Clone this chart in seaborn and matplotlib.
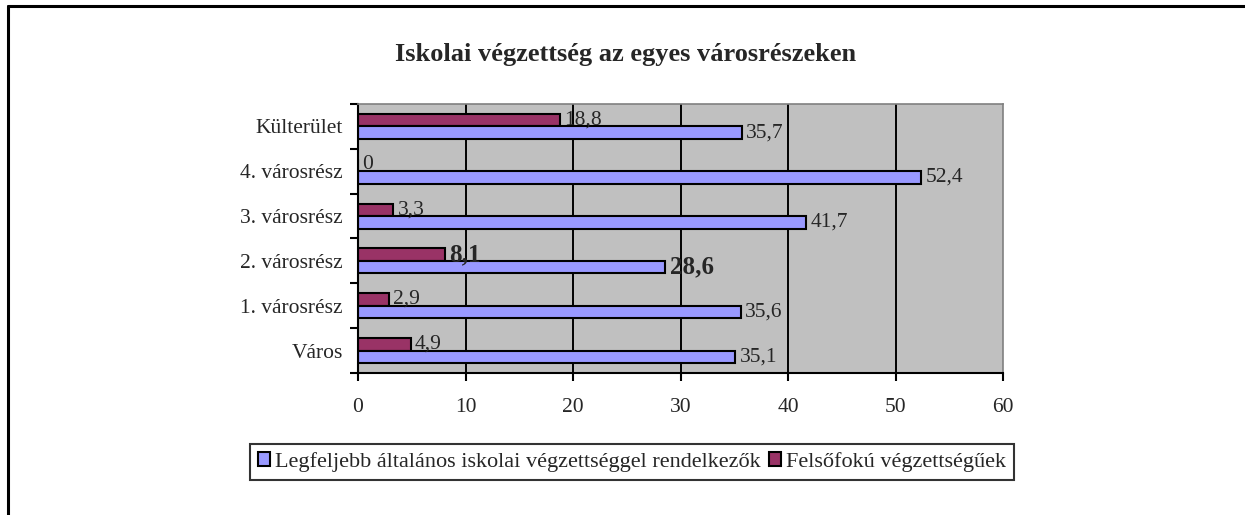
import pandas as pd
import matplotlib.pyplot as plt
import seaborn as sns
from matplotlib.patches import Patch
from matplotlib.lines import Line2D

# ------------------------------------------
# Data
# ------------------------------------------

categories = ["Külterület", "4. városrész", "3. városrész",
              "2. városrész", "1. városrész", "Város"]

series_low = "Legfeljebb általános iskolai végzettséggel rendelkezők"
series_high = "Felsőfokú végzettségűek"

values_low = [35.7, 52.4, 41.7, 28.6, 35.6, 35.1]
values_high = [18.8, 0, 3.3, 8.1, 2.9, 4.9]

bold_category = "2. városrész"

x_ticks = [0, 10, 20, 30, 40, 50, 60]

df = pd.DataFrame({
    "Kategória": categories * 2,
    "Érték": values_high + values_low,
    "Csoport": [series_high] * len(categories) + [series_low] * len(categories),
})

colors = {series_low: "#9999FF", series_high: "#993366"}

# ------------------------------------------
# Plot
# ------------------------------------------

sns.set_style("white")
plt.rcParams["font.family"] = ["Liberation Serif", "DejaVu Serif"]

fig = plt.figure(figsize=(12.45, 5.15), dpi=100)
ax = fig.add_axes([358 / 1245, 1 - 373 / 515, 645 / 1245, 269 / 515])

sns.barplot(
    data=df,
    y="Kategória",
    x="Érték",
    hue="Csoport",
    order=categories,
    hue_order=[series_high, series_low],
    palette=colors,
    orient="h",
    width=0.56,
    gap=0,
    saturation=1,
    edgecolor="black",
    linewidth=1.5,
    legend=False,
    ax=ax,
)

ax.set_facecolor("#C0C0C0")
ax.set_xlim(0, 60)
ax.set_xticks(x_ticks)
ax.set_xlabel("")
ax.set_ylabel("")

for x in x_ticks[1:-1]:
    ax.axvline(x, color="black", linewidth=1.4, zorder=0.5)

for side in ["top", "right"]:
    ax.spines[side].set_color("#808080")
    ax.spines[side].set_linewidth(1.2)
for side in ["left", "bottom"]:
    ax.spines[side].set_color("black")
    ax.spines[side].set_linewidth(1.5)

# y ticks: labels at centres, tick marks at boundaries
ax.set_yticks(range(len(categories)))
ax.set_yticklabels(categories)
ax.set_yticks([i - 0.5 for i in range(len(categories) + 1)], minor=True)
ax.tick_params(axis="y", which="major", length=0, pad=11, labelsize=15.5)
ax.tick_params(axis="y", which="minor", length=6, width=1.5, color="black", left=True)
ax.tick_params(axis="x", length=6, width=1.5, color="black", bottom=True,
               pad=12, labelsize=15.5)

# value labels
for container in ax.containers:
    vals = [bar.get_width() for bar in container]
    labels = [f"{v:g}".replace(".", ",") for v in vals]
    texts = ax.bar_label(container, labels=labels, padding=3, fontsize=15.5)
    for cat, t in zip(categories, texts):
        if cat == bold_category:
            t.set_fontweight("bold")
            t.set_fontsize(18)

# ------------------------------------------
# Title and legend
# ------------------------------------------

fig.text(626 / 1245, 1 - 55 / 515, "Iskolai végzettség az egyes városrészeken",
         ha="center", va="center", fontsize=19, fontweight="bold")

handles = [
    Patch(facecolor=colors[series_low], edgecolor="black", linewidth=1.5, label=series_low),
    Patch(facecolor=colors[series_high], edgecolor="black", linewidth=1.5, label=series_high),
]
leg = fig.legend(
    handles=handles,
    loc="center",
    bbox_to_anchor=(632 / 1245, 1 - 462 / 515),
    ncol=2,
    frameon=True,
    fancybox=False,
    fontsize=16,
    handlelength=0.55,
    handleheight=0.55,
    handletextpad=0.2,
    columnspacing=0.4,
    borderpad=0.35,
)
leg.get_frame().set_edgecolor("black")
leg.get_frame().set_linewidth(1.5)

# outer chart border (left and top visible)
fig.add_artist(Line2D([8 / 1245, 8 / 1245], [0, 1 - 6 / 515], color="black", linewidth=2.2))
fig.add_artist(Line2D([8 / 1245, 1], [1 - 6 / 515, 1 - 6 / 515], color="black", linewidth=2.2))

fig.savefig("out.png", dpi=100)
